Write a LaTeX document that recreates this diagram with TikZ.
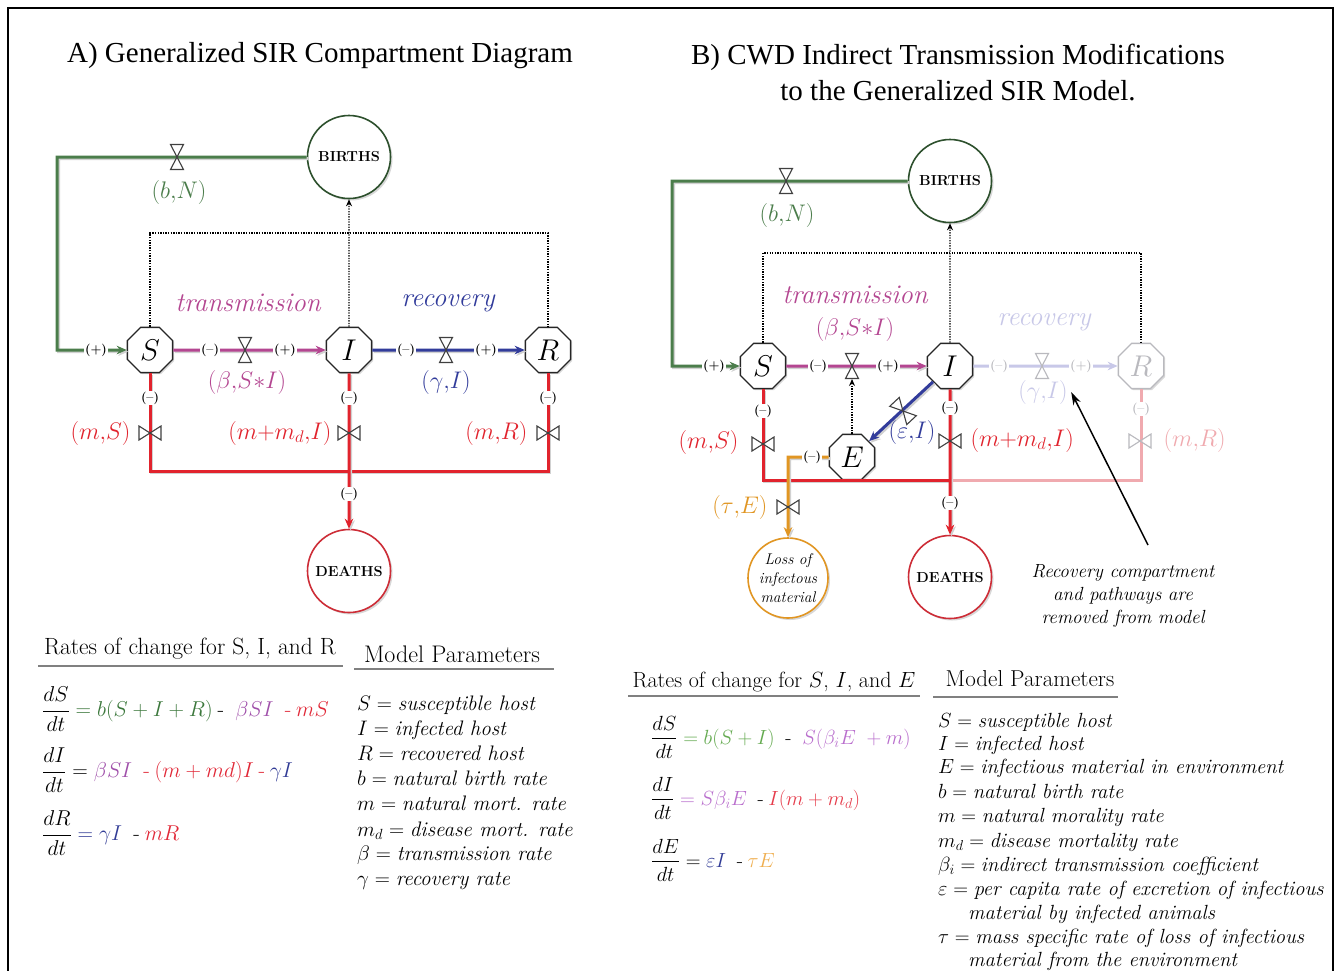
\RequirePackage{fix-cm}
\documentclass[tikz,border=0pt]{standalone}
\usepackage{amsmath}
\usepackage{fontspec}
\newfontfamily\titlefont{Liberation Serif}
\usetikzlibrary{shapes.geometric,arrows.meta,shadows}
\definecolor{grn}{RGB}{75,125,75}
\definecolor{dgrn}{RGB}{45,80,45}
\definecolor{trn}{RGB}{180,70,145}
\definecolor{blu}{RGB}{50,60,155}
\definecolor{rd}{RGB}{225,35,45}
\definecolor{drd}{RGB}{205,45,55}
\definecolor{fblu}{RGB}{200,200,232}
\definecolor{frd}{RGB}{240,170,175}
\definecolor{fgr}{RGB}{185,185,190}
\definecolor{org}{RGB}{225,150,35}
\definecolor{eqgrn}{RGB}{60,120,60}
\definecolor{eqpur}{RGB}{160,80,170}
\definecolor{eqred}{RGB}{225,40,55}
\definecolor{eqblu}{RGB}{50,60,150}
\definecolor{eqgrnb}{RGB}{100,170,80}
\definecolor{eqpurb}{RGB}{185,110,205}
\definecolor{eqredb}{RGB}{230,60,75}
\definecolor{eqorg}{RGB}{240,175,80}
\newcommand{\myhy}{\mathbin{\text{-}}}
\newcommand{\myfs}[1]{\fontsize{#1}{#1}\selectfont}
\newcommand{\heavy}{\addfontfeature{FakeBold=0.6}}
\tikzset{
  comp/.style={regular polygon, regular polygon sides=8, draw=black!85, line width=1.3pt,
    fill=white, minimum size=49pt, inner sep=0pt, font=\myfs{30},
    drop shadow={shadow xshift=1.5pt, shadow yshift=-1.5pt, opacity=.3}},
  fcomp/.style={comp, draw=fgr, text=fgr},
  pool/.style={circle, line width=1.6pt, fill=white, minimum size=83pt, inner sep=0pt,
    font=\myfs{14.5}\bfseries, drop shadow={shadow xshift=2pt, shadow yshift=-2pt, opacity=.3}},
  flow/.style={line width=3pt, preaction={draw=black!18, line width=3pt,
    transform canvas={shift={(1.6pt,-1.6pt)}}}},
  tip/.style={-{Stealth[length=10pt,width=8.5pt]}},
  dots/.style={line width=1.1pt, dash pattern=on 1.3pt off 1.3pt},
  dtip/.style={-{Stealth[length=7pt,width=6pt]}},
  sgn/.style={font=\myfs{12.5}\bfseries, fill=white, inner sep=0.8pt},
  lab/.style={font=\myfs{24}},
  capt/.style={font=\myfs{27}\itshape},
  eqn/.style={font=\myfs{21.5}, anchor=west, inner sep=0pt},
  eqnb/.style={font=\myfs{20.5}, anchor=west, inner sep=0pt},
  parA/.style={font=\myfs{21}\itshape\heavy, anchor=base west, inner sep=0pt},
  parB/.style={font=\myfs{20.5}\itshape\heavy, anchor=base west, inner sep=0pt},
  valveh/.pic={\draw[line width=1.1pt, draw=black!75, fill=white, fill opacity=.5]
     (-6.5,-12.5) -- (6.5,-12.5) -- (-6.5,12.5) -- (6.5,12.5) -- cycle;},
  valvehf/.pic={\draw[line width=1.1pt, draw=fgr, fill=white, fill opacity=.5]
     (-6.5,-12.5) -- (6.5,-12.5) -- (-6.5,12.5) -- (6.5,12.5) -- cycle;},
  valvev/.pic={\draw[line width=1.1pt, draw=black!75, fill=white, fill opacity=.5]
     (-11,-7) -- (-11,7) -- (11,-7) -- (11,7) -- cycle;},
  valvevf/.pic={\draw[line width=1.1pt, draw=fgr, fill=white, fill opacity=.5]
     (-11,-7) -- (-11,7) -- (11,-7) -- (11,7) -- cycle;},
}
\begin{document}
\begin{tikzpicture}[x=1pt,y=-1pt]
\useasboundingbox (0,0) rectangle (1340,970);
\fill[white] (0,0) rectangle (1340,970);
\draw[line width=2pt] (8,985) -- (8,8) -- (1333,8) -- (1333,985);

% ---------- titles
\node[font=\titlefont\myfs{29}] (titA) at (320,56) {A) Generalized SIR Compartment Diagram};
\node[font=\titlefont\fontsize{29}{36}\selectfont, align=center] (titB) at (958,72)
  {B) CWD Indirect Transmission Modifications\\to the Generalized SIR Model.};

% ================= PANEL A =================
\node[pool, draw=dgrn] (birthsA) at (349,157) {BIRTHS};
\node[pool, draw=drd] (deathsA) at (349,571) {DEATHS};
\node[comp] (SA) at (150,350) {$S$};
\node[comp] (IA) at (349,350) {$I$};
\node[comp] (RA) at (548,350) {$R$};
\coordinate (gA1) at (57,157);
\coordinate (gA2) at (57,350);
\coordinate (dA1) at (150,233);
\coordinate (dA3) at (548,233);
\coordinate (rA1) at (150,471);
\coordinate (rA3) at (548,471);

\draw[dots] (SA) -- (dA1) -- (dA3) -- (RA);
\draw[dots,dtip] (IA) -- (birthsA);
\draw[flow,grn,tip] (birthsA) -- (gA1) -- (gA2) -- (SA);
\draw[flow,trn,tip] (SA) -- (IA);
\draw[flow,blu,tip] (IA) -- (RA);
\draw[flow,rd] (SA) -- (rA1) -- (rA3) -- (RA);
\draw[flow,rd,tip] (IA) -- (deathsA);

\pic at (177,157) {valveh};
\pic at (245,350) {valveh};
\pic at (446,350) {valveh};
\pic at (150,433) {valvev};
\pic at (349,433) {valvev};
\pic at (548,433) {valvev};

\node[sgn] (pA1) at (96,350) {(+)};
\node[sgn] (mA1) at (210,350) {(--)};
\node[sgn] (pA2) at (285,350) {(+)};
\node[sgn] (mA2) at (406,350) {(--)};
\node[sgn] (pA3) at (486,350) {(+)};
\node[sgn] (mA3) at (150,398) {(--)};
\node[sgn] (mA4) at (349,398) {(--)};
\node[sgn] (mA5) at (548,398) {(--)};
\node[sgn] (mA6) at (349,494) {(--)};

\node[lab, text=grn] (bnA) at (179,192) {$(b{,}N)$};
\node[lab, text=trn] (bsiA) at (247,382) {$(\beta{,}S{*}I)$};
\node[lab, text=blu] (giA) at (446,382) {$(\gamma{,}I)$};
\node[lab, text=rd, anchor=east] (msA) at (134,433) {$(m{,}S)$};
\node[lab, text=rd, anchor=east] (mdA) at (335,433) {$(m{+}m_d{,}I)$};
\node[lab, text=rd, anchor=east] (mrA) at (531,433) {$(m{,}R)$};
\node[capt, text=trn] (trA) at (248,303) {transmission};
\node[capt, text=blu] (reA) at (448,303) {recovery};

% equations A
\node[font=\myfs{23.5}\heavy] (hA1) at (190,649) {Rates of change for S, I, and R};
\node[font=\myfs{24}\heavy] (hA2) at (452,654) {Model Parameters};
\draw[line width=2pt, black!50] (38,666) -- (343,666);
\draw[line width=2pt, black!50] (354,669) -- (554,669);

\node[eqn] (eqA1) at (42,709) {$\displaystyle\frac{dS}{dt} \mathrel{\color{eqgrn}=} {\color{eqgrn}b(S+I+R)} \myhy\ {\color{eqpur}\beta SI}\ \mathbin{\color{eqred}\text{-}} {\color{eqred}mS}$};
\node[eqn] (eqA2) at (42,770) {$\displaystyle\frac{dI}{dt} = {\color{eqpur}\beta SI}\ \mathbin{\color{eqred}\text{-}} {\color{eqred}(m+md)I} \mathbin{\color{eqred}\text{-}} {\color{eqblu}\gamma I}$};
\node[eqn] (eqA3) at (42,833) {$\displaystyle\frac{dR}{dt} \mathrel{\color{eqblu}=} {\color{eqblu}\gamma I}\ \myhy {\color{eqred}mR}$};

\node[parA] (paA1) at (357,710) {$S={}$susceptible host};
\node[parA] (paA2) at (357,735) {$I={}$infected host};
\node[parA] (paA3) at (357,760) {$R={}$recovered host};
\node[parA] (paA4) at (357,785) {$b={}$natural birth rate};
\node[parA] (paA5) at (357,810) {$m={}$natural mort. rate};
\node[parA] (paA6) at (357,836) {$m_d={}$disease mort. rate};
\node[parA] (paA7) at (357,860) {$\beta={}$transmission rate};
\node[parA] (paA8) at (357,885) {$\gamma={}$recovery rate};

% ================= PANEL B =================
\node[pool, draw=dgrn] (birthsB) at (950,181) {BIRTHS};
\node[pool, draw=drd] (deathsB) at (950,577) {DEATHS};
\node[pool, draw=org, minimum size=80pt, font=\fontsize{15.5}{19}\selectfont\itshape\heavy, align=center] (lossB) at (788,578) {Loss of\\infectous\\material};
\node[comp] (SB) at (763,366) {$S$};
\node[comp] (IB) at (950,366) {$I$};
\node[fcomp] (RB) at (1141,366) {$R$};
\node[comp] (EB) at (852,457) {$E$};
\coordinate (gB1) at (672,181);
\coordinate (gB2) at (672,366);
\coordinate (dB1) at (763,253);
\coordinate (dB3) at (1141,253);
\coordinate (rB1) at (763,480);
\coordinate (rB2) at (950,480);
\coordinate (rB3) at (1141,480);
\coordinate (oB1) at (788,457);
\coordinate (tvB) at (852,379);

\draw[dots] (SB) -- (dB1) -- (dB3) -- (RB);
\draw[dots,dtip] (IB) -- (birthsB);
\draw[dots,dtip] (EB) -- (tvB);
\draw[flow,grn,tip] (birthsB) -- (gB1) -- (gB2) -- (SB);
\draw[flow,trn,tip] (SB) -- (IB);
\draw[line width=3pt,fblu,tip] (IB) -- (RB);
\draw[line width=3pt,frd] (rB2) -- (rB3) -- (RB);
\draw[flow,rd] (SB) -- (rB1) -- (rB2);
\draw[flow,rd,tip] (IB) -- (deathsB);
\draw[flow,blu,tip] (IB) -- (EB);
\draw[flow,org,tip] (EB) -- (oB1) -- (lossB);

\pic at (786,181) {valveh};
\pic at (852,366) {valveh};
\pic at (1042,366) {valvehf};
\pic[rotate=43] at (903,411) {valveh};
\pic at (763,444) {valvev};
\pic at (950,441) {valvev};
\pic at (1140,441) {valvevf};
\pic at (788,507) {valvev};

\node[sgn] (pB1) at (714,366) {(+)};
\node[sgn] (mB1) at (818,366) {(--)};
\node[sgn] (pB2) at (888,366) {(+)};
\node[sgn, text=fgr] (mB2) at (999,366) {(--)};
\node[sgn, text=fgr] (pB3) at (1081,366) {(+)};
\node[sgn] (mB3) at (763,411) {(--)};
\node[sgn] (mB4) at (950,408) {(--)};
\node[sgn, text=fgr] (mB5) at (1141,409) {(--)};
\node[sgn] (mB6) at (950,503) {(--)};
\node[sgn] (mB7) at (812,457) {(--)};

\node[lab, text=grn] (bnB) at (787,215) {$(b{,}N)$};
\node[lab, text=trn] (bsiB) at (855,329) {$(\beta{,}S{*}I)$};
\node[lab, text=fblu] (giB) at (1043,392) {$(\gamma{,}I)$};
\node[lab, text=blu] (eiB) at (912,432) {$(\varepsilon{,}I)$};
\node[lab, text=rd, anchor=east] (msB) at (742,442) {$(m{,}S)$};
\node[lab, text=rd, anchor=west] (mdB) at (967,440) {$(m{+}m_d{,}I)$};
\node[lab, text=frd, anchor=west] (mrB) at (1160,440) {$(m{,}R)$};
\node[lab, text=org, anchor=east] (teB) at (771,507) {$(\tau{,}E)$};
\node[capt, text=trn] (trB) at (855,295) {transmission};
\node[capt, text=fblu] (reB) at (1044,322) {recovery};

\node[font=\fontsize{19}{23}\selectfont\itshape\heavy, align=center] (noteB) at (1123,596)
  {Recovery compartment\\and pathways are\\removed from model};
\coordinate (nB1) at (1148,545);
\draw[line width=1.5pt, -{Stealth[length=13pt,width=8pt]}] (nB1) -- (giB.east);

% equations B
\node[font=\myfs{22}\heavy] (hB1) at (774,682) {Rates of change for $S$, $I$, and $E$};
\node[font=\myfs{23}\heavy] (hB2) at (1030,679) {Model Parameters};
\draw[line width=2pt, black!50] (628,696) -- (920,696);
\draw[line width=2pt, black!50] (933,697) -- (1118,697);

\node[eqnb] (eqB1) at (651,737) {$\displaystyle\frac{dS}{dt} \mathrel{\color{eqgrnb}=} {\color{eqgrnb}b(S+I)}\ \myhy\ {\color{eqpurb}S(\beta_i E\ +m)}$};
\node[eqnb] (eqB2) at (651,798) {$\displaystyle\frac{dI}{dt} \mathrel{\color{eqpurb}=} {\color{eqpurb}S\beta_i E}\ \myhy {\color{eqredb}I(m+m_d)}$};
\node[eqnb] (eqB3) at (651,860) {$\displaystyle\frac{dE}{dt} = {\color{eqblu}\varepsilon I}\ \myhy {\color{eqorg}\tau E}$};

\node[parB] (pbB1) at (938,727) {$S={}$susceptible host};
\node[parB] (pbB2) at (938,750) {$I={}$infected host};
\node[parB] (pbB3) at (938,773) {$E={}$infectious material in environment};
\node[parB] (pbB4) at (938,798) {$b={}$natural birth rate};
\node[parB] (pbB5) at (938,822) {$m={}$natural morality rate};
\node[parB] (pbB6) at (938,847) {$m_d={}$disease mortality rate};
\node[parB] (pbB7) at (938,871) {$\beta_i={}$indirect transmission coefficient};
\node[parB] (pbB8) at (938,895) {$\varepsilon={}$per capita rate of excretion of infectious};
\node[parB] (pbB9) at (968,919) {material by infected animals};
\node[parB] (pbB10) at (938,943) {$\tau={}$mass specific rate of loss of infectious};
\node[parB] (pbB11) at (968,966) {material from the environment};
\end{tikzpicture}
\end{document}
